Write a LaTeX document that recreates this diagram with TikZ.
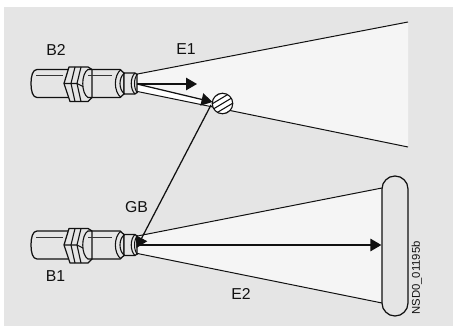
\documentclass[tikz,border=0pt]{standalone}
\usepackage{fontspec}
\setmainfont{Liberation Sans}
\usetikzlibrary{arrows.meta,calc}
\definecolor{panel}{HTML}{E5E5E5}
\definecolor{beam}{HTML}{F5F5F5}
\definecolor{ink}{HTML}{111111}
\tikzset{
  x=1pt,y=-1pt,
  outline/.style={draw=ink,line width=1.25pt,line join=round},
  beamedge/.style={draw=ink,line width=1pt},
  ray/.style={draw=ink,line width=1.25pt,-{Triangle[length=11pt,width=12.5pt]}},
  label/.style={font=\fontsize{15.8}{15.8}\selectfont,text=ink,inner sep=0pt},
  sensor/.pic={
    \draw[outline,fill=panel] (68,-14) -- (37,-14) .. controls (32.5,-14) and (31,-7) .. (31,0) .. controls (31,7) and (32.5,14) .. (37,14) -- (68,14);
    \draw[outline,fill=panel] (88,-14) -- (120,-14) -- (124,-10.5) -- (124,10.5) -- (120,14) -- (88,14) -- cycle;
    \draw[outline,fill=panel] (124,-10.5) -- (135,-10.5) -- (137,-9) -- (137,9) -- (135,10.5) -- (124,10.5) -- cycle;
    \draw[line width=1.1pt,draw=ink] (121,-14) .. controls (113.5,-8) and (113.5,8) .. (121,14);
    \draw[line width=1.1pt,draw=ink] (124.5,-10.5) .. controls (118.5,-6) and (118.5,6) .. (124.5,10.5);
    \draw[line width=1.1pt,draw=ink] (135,-10.5) .. controls (130,-6) and (130,6) .. (135,10.5);
    \draw[line width=1pt,draw=ink] (137.5,-9.5) .. controls (133.5,-5) and (133.5,5) .. (137.5,9.5);
    \draw[outline,fill=panel] (69,-16.5) -- (64,0) -- (70,18) -- (88,18) -- (92,14) -- (92,-14) -- (88,-16.5) -- cycle;
    \draw[line width=1.1pt,draw=ink] (92,-14) -- (88,-14) .. controls (81,-10) and (81,10) .. (88,14) -- (92,14);
    \draw[line width=1.1pt,draw=ink] (75,-16.5) -- (71,0) -- (75,18);
    \draw[line width=1.1pt,draw=ink] (81,-16.5) -- (77,0) -- (81,18);
    \draw[line width=1.1pt,draw=ink] (64,0) -- (71,0) -- (77,0) -- (83,3);
    \draw[line width=1pt,draw=ink!85] (36,-7.5) -- (63,-7.5) (88,-7.5) -- (112,-7.5);
  }
}
\begin{document}
\begin{tikzpicture}
\useasboundingbox (0,0) rectangle (453,326);
\fill[panel] (4,7) rectangle (453,326);

% named anchors
\coordinate (s2) at (137,84);
\coordinate (s1) at (137,245);
\coordinate (top1) at (408,22);
\coordinate (top2) at (408,147);
\coordinate (t1) at (197,84);
\coordinate (t2) at (212.5,102);
\coordinate (gbEnd) at (136.5,248);
\coordinate (gbStart) at (211,105);
\coordinate (tc) at (222.5,103.5);

% beams
\fill[beam] (135,74.5) -- (top1) -- (top2) -- (135,91) -- cycle;
\fill[white] (135,84) -- (207,101) -- (207,105.5) -- (135,91) -- cycle;
\fill[beam] (135,236.5) -- (382,188) -- (382,303) -- (135,253) -- cycle;

\node[draw=ink,line width=1.25pt,fill=panel,rounded corners=13pt,minimum width=26pt,minimum height=140pt,inner sep=0pt] (bar) at (395,246) {};

\draw[beamedge] (135,74.5) -- (top1);
\draw[beamedge] (135,91) -- (top2);
\draw[beamedge] (135,236.5) -- (382,188);
\draw[beamedge] (135,253) -- (382,303);

% sensors
\pic at (0,83.5) {sensor};
\pic at (0,245) {sensor};

% target
\node[circle,draw=ink,line width=1.1pt,fill=white,minimum size=20.5pt,inner sep=0pt] (target) at (tc) {};
\begin{scope}
\clip (tc) circle (10pt);
\foreach \d in {-9,-4.5,0,4.5,9}
  \draw[ink,line width=1.1pt] ($(tc)+(-14,8.4)+(0.5*\d,\d)$) -- ($(tc)+(14,-8.4)+(0.5*\d,\d)$);
\end{scope}

% rays
\draw[ray] (s2) -- (t1);
\draw[ray] (s2) -- (t2);
\draw[ray] (s1) -- (s1 -| bar.west);
\draw[ray] (gbStart) -- (gbEnd);

% labels
\node[label] (b2) at (56,49.5) {B2};
\node[label] (e1) at (186,49.5) {E1};
\node[label] (gb) at (136.5,207) {GB};
\node[label] (b1) at (55.5,276.5) {B1};
\node[label] (e2) at (241,294) {E2};
\node[font=\fontsize{11.3}{11.3}\selectfont,text=ink,inner sep=0pt,rotate=90] (code) at (417,278) {NSD0\_01195b};
\end{tikzpicture}
\end{document}
